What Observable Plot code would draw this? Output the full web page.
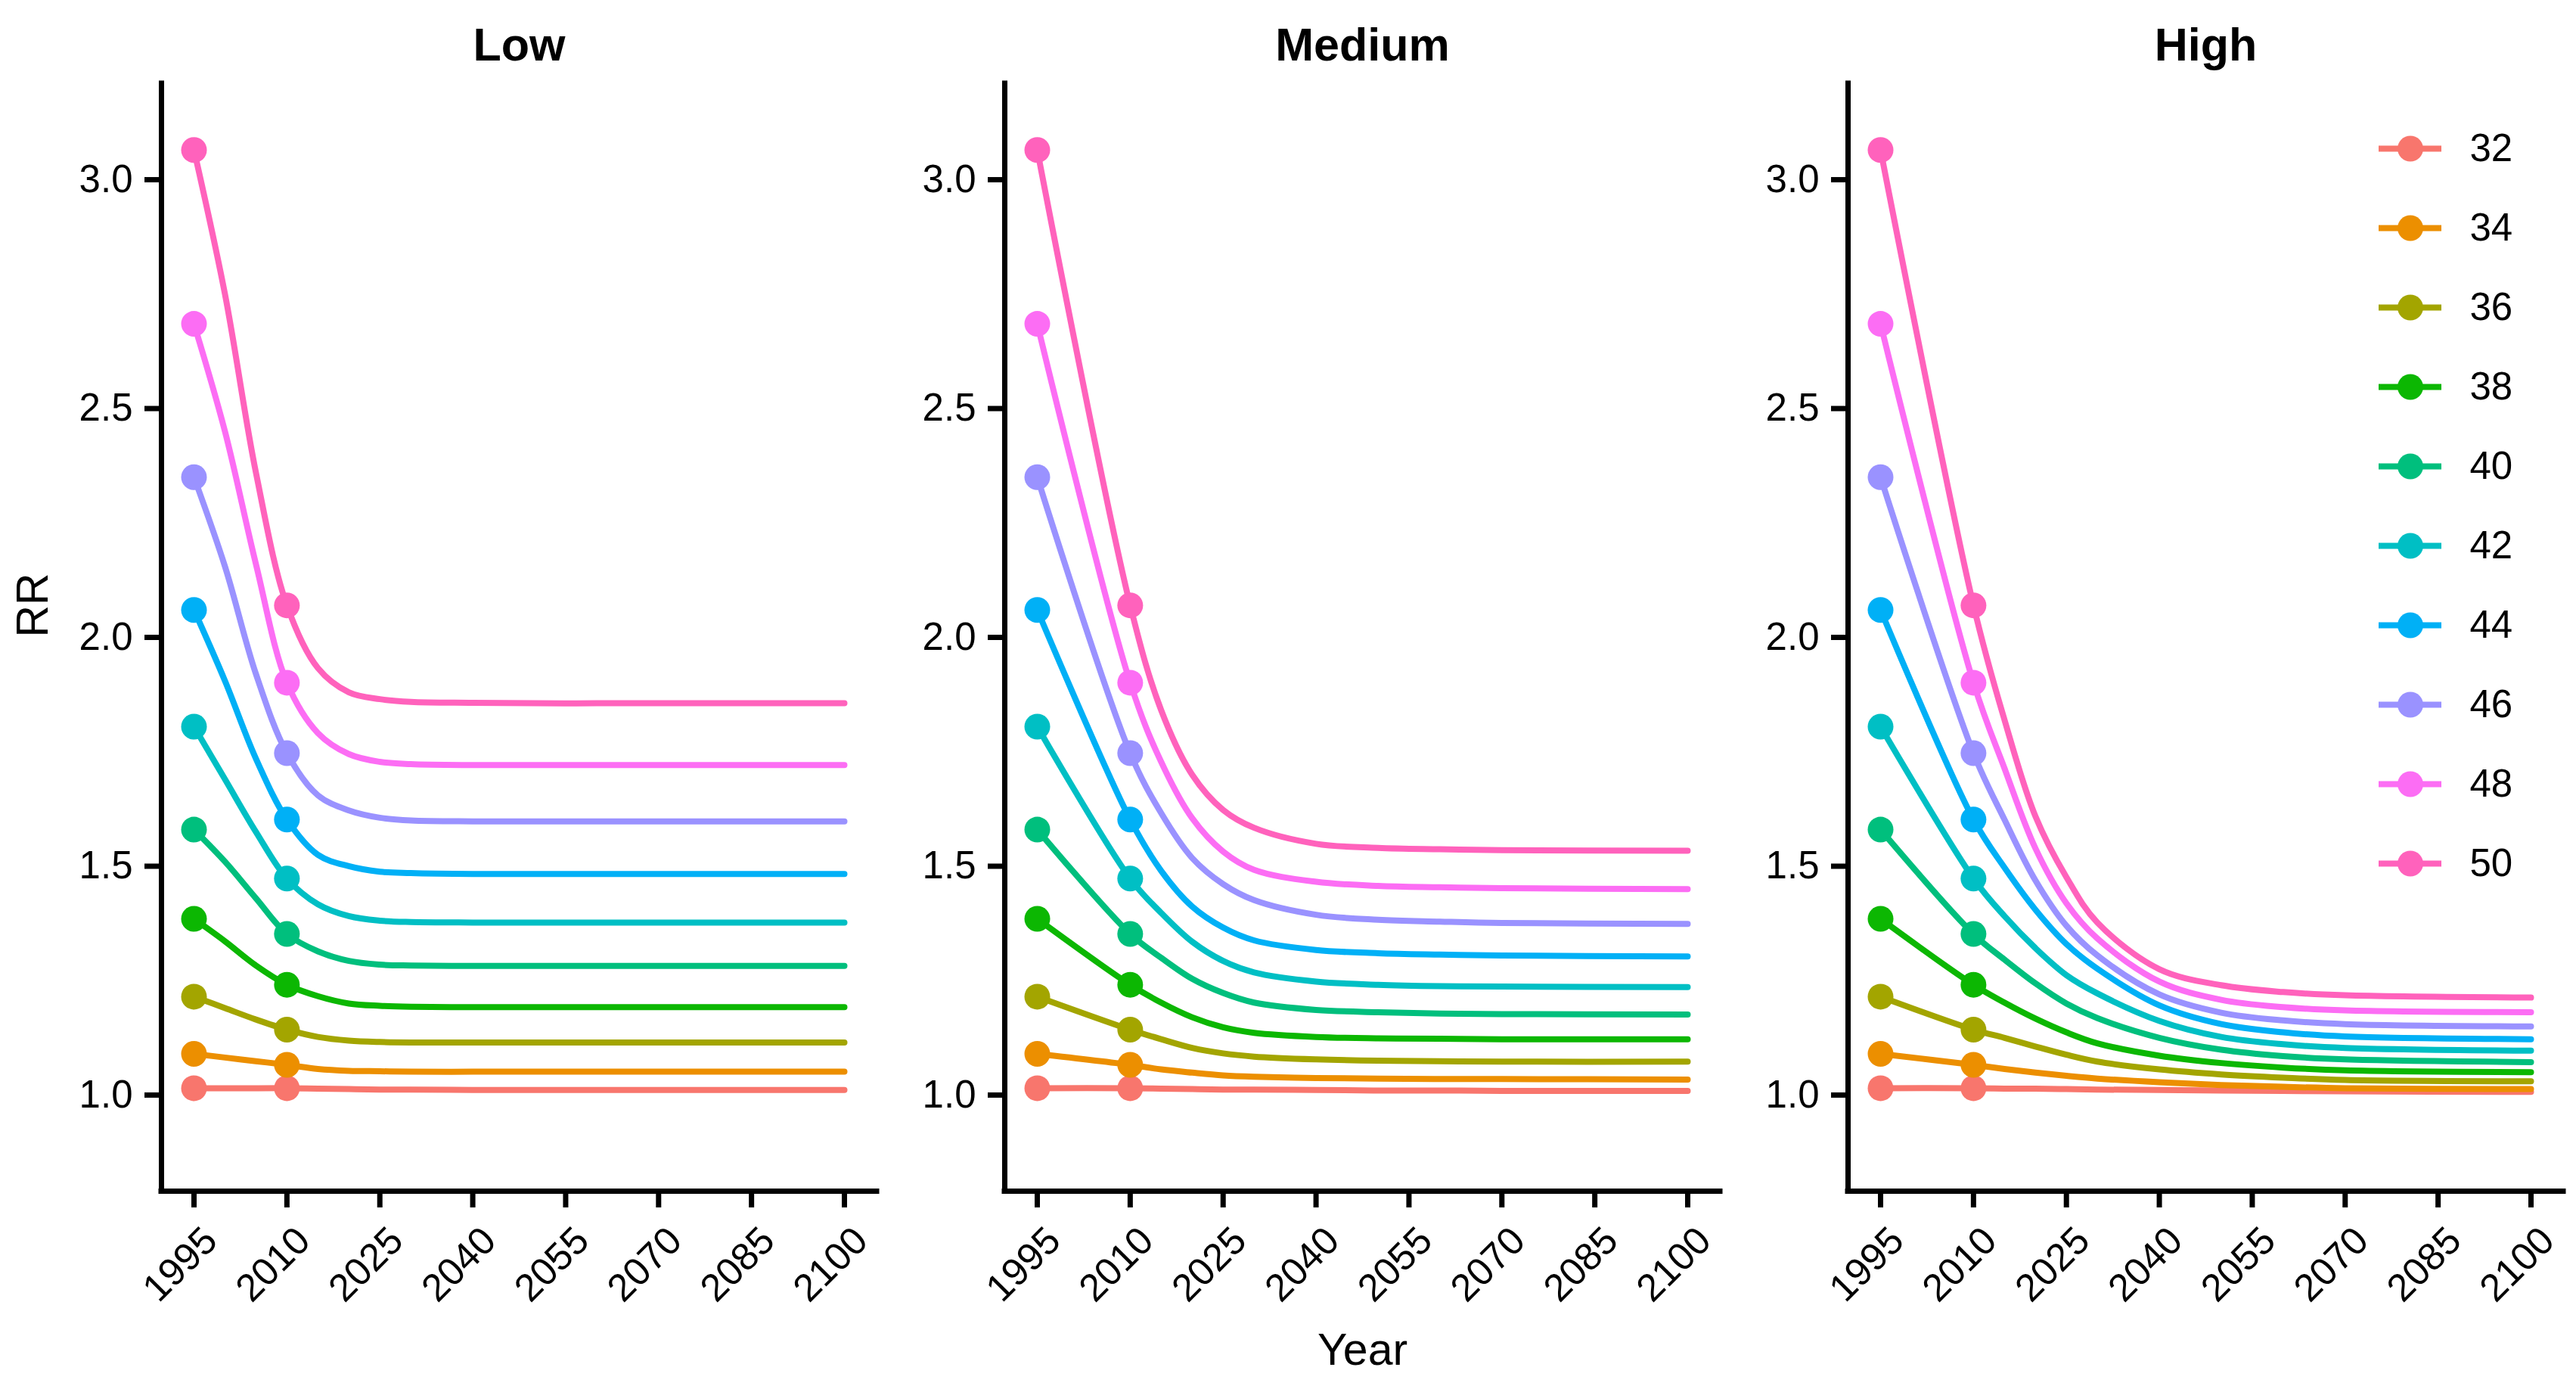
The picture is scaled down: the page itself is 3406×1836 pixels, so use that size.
<!DOCTYPE html>
<html>
<head>
<meta charset="utf-8">
<script src="https://cdn.jsdelivr.net/npm/d3@7"></script>
<script src="https://cdn.jsdelivr.net/npm/@observablehq/plot@0.6"></script>
<style>
  html, body { margin: 0; padding: 0; background: #fff; }
  #wrap { position: relative; width: 3406px; height: 1836px; }
  #wrap > div, #wrap > svg { position: absolute; }
</style>
</head>
<body>
<div id="wrap"></div>
<script>
// ---------------- data ----------------
const scenarios = ["Low", "Medium", "High"];
const ages = [32, 34, 36, 38, 40, 42, 44, 46, 48, 50];

// observed points (shown as dots), identical in all scenarios
const markerYears = [1995, 2010];
const rr1995 = [1.015, 1.090, 1.215, 1.385, 1.580, 1.805, 2.060, 2.350, 2.685, 3.065];
const rr2010 = [1.015, 1.066, 1.143, 1.241, 1.352, 1.473, 1.602, 1.747, 1.901, 2.070];

// read-off intermediate values of the Low panel between 1995 and 2010
const lowMidYears = [2000, 2005];
const lowMidRR = [
  [1.015, 1.015],
  [1.082, 1.074],
  [1.190, 1.165],
  [1.336, 1.283],
  [1.510, 1.430],
  [1.690, 1.575],
  [1.905, 1.735],
  [2.155, 1.920],
  [2.450, 2.160],
  [2.750, 2.360]
];

// projections 2015-2100 per scenario (rows follow ages, columns follow projYears)
const projYears = [2015, 2020, 2025, 2030, 2040, 2050, 2060, 2070, 2100];
const lowRR = [
  [1.014, 1.013, 1.012, 1.012, 1.011, 1.011, 1.011, 1.011, 1.011],
  [1.057, 1.053, 1.052, 1.051, 1.051, 1.051, 1.051, 1.051, 1.051],
  [1.127, 1.119, 1.116, 1.115, 1.115, 1.115, 1.115, 1.115, 1.115],
  [1.216, 1.200, 1.195, 1.193, 1.192, 1.192, 1.192, 1.192, 1.192],
  [1.314, 1.293, 1.285, 1.283, 1.282, 1.282, 1.282, 1.282, 1.282],
  [1.417, 1.391, 1.381, 1.378, 1.377, 1.377, 1.377, 1.377, 1.377],
  [1.525, 1.500, 1.488, 1.485, 1.483, 1.483, 1.483, 1.483, 1.483],
  [1.655, 1.622, 1.606, 1.600, 1.598, 1.598, 1.598, 1.598, 1.598],
  [1.791, 1.745, 1.728, 1.723, 1.721, 1.721, 1.721, 1.721, 1.721],
  [1.933, 1.880, 1.865, 1.859, 1.857, 1.856, 1.856, 1.856, 1.856]
];
const mediumRR = [
  [1.014, 1.013, 1.012, 1.012, 1.011, 1.010, 1.010, 1.009, 1.009],
  [1.056, 1.049, 1.043, 1.040, 1.037, 1.036, 1.035, 1.035, 1.034],
  [1.122, 1.103, 1.091, 1.084, 1.078, 1.075, 1.074, 1.073, 1.073],
  [1.202, 1.170, 1.148, 1.136, 1.127, 1.124, 1.123, 1.122, 1.122],
  [1.300, 1.254, 1.223, 1.202, 1.186, 1.181, 1.178, 1.177, 1.176],
  [1.398, 1.335, 1.293, 1.268, 1.248, 1.241, 1.238, 1.237, 1.236],
  [1.490, 1.412, 1.366, 1.338, 1.317, 1.310, 1.307, 1.305, 1.303],
  [1.616, 1.518, 1.461, 1.426, 1.394, 1.383, 1.379, 1.376, 1.374],
  [1.728, 1.605, 1.532, 1.492, 1.466, 1.457, 1.454, 1.452, 1.450],
  [1.841, 1.700, 1.623, 1.584, 1.549, 1.540, 1.537, 1.535, 1.534]
];
const highRR = [
  [1.014, 1.014, 1.013, 1.012, 1.011, 1.010, 1.009, 1.008, 1.007],
  [1.057, 1.049, 1.042, 1.036, 1.028, 1.022, 1.018, 1.015, 1.013],
  [1.125, 1.106, 1.088, 1.073, 1.056, 1.045, 1.038, 1.033, 1.030],
  [1.202, 1.167, 1.137, 1.113, 1.086, 1.070, 1.060, 1.054, 1.050],
  [1.296, 1.244, 1.200, 1.168, 1.125, 1.099, 1.085, 1.078, 1.072],
  [1.391, 1.321, 1.262, 1.222, 1.162, 1.127, 1.111, 1.103, 1.097],
  [1.497, 1.405, 1.330, 1.276, 1.196, 1.155, 1.137, 1.128, 1.122],
  [1.602, 1.469, 1.370, 1.305, 1.220, 1.180, 1.163, 1.155, 1.150],
  [1.714, 1.539, 1.419, 1.342, 1.248, 1.208, 1.192, 1.185, 1.181],
  [1.820, 1.609, 1.476, 1.377, 1.275, 1.240, 1.225, 1.218, 1.213]
];

const xTicks = [1995, 2010, 2025, 2040, 2055, 2070, 2085, 2100];
const yTicks = [1.0, 1.5, 2.0, 2.5, 3.0];
const xDomain = [1989.75, 2105.25];
const yDomain = [0.79, 3.21];

const palette = ["#F8766D", "#EC8F00", "#A3A500", "#0CB702", "#00BF7D",
                 "#00BFC4", "#00B0F6", "#9A92FF", "#FC6DF4", "#FF62BC"];

// ---------------- table for Plot ----------------
const projByScenario = [lowRR, mediumRR, highRR];
const rows = [];
scenarios.forEach((s, si) => {
  ages.forEach((a, ai) => {
    rows.push({scenario: s, age: a, year: markerYears[0], rr: rr1995[ai]});
    if (si === 0) lowMidYears.forEach((y, yi) => rows.push({scenario: s, age: a, year: y, rr: lowMidRR[ai][yi]}));
    rows.push({scenario: s, age: a, year: markerYears[1], rr: rr2010[ai]});
    projYears.forEach((y, yi) => rows.push({scenario: s, age: a, year: y, rr: projByScenario[si][ai][yi]}));
  });
});
const markers = rows.filter(d => markerYears.includes(d.year));

const FONT = "'Liberation Sans', Arial, Helvetica, sans-serif";

const chart = Plot.plot({
  width: 3406,
  height: 1836,
  marginLeft: 212,
  marginRight: 17,
  marginTop: 110,
  marginBottom: 262,
  style: {fontFamily: FONT, fontSize: "51px", background: "white", color: "black"},
  x: {domain: xDomain, axis: null},
  y: {domain: yDomain, axis: null},
  fx: {domain: scenarios, paddingInner: 0.152, paddingOuter: 0, axis: null, label: null},
  color: {type: "ordinal", domain: ages, range: palette},
  marks: [
    // axis lines
    Plot.ruleX(scenarios, {fx: d => d, x: () => xDomain[0], strokeWidth: 7, strokeLinecap: "square"}),
    Plot.ruleY(scenarios, {fx: d => d, y: () => yDomain[0], strokeWidth: 7, strokeLinecap: "square"}),
    // y axis in every facet
    Plot.axisY({ticks: yTicks, tickFormat: d3.format(".1f"), tickSize: 22, tickPadding: 16,
                strokeWidth: 7, fontSize: 51, facetAnchor: null, label: null}),
    // x ticks
    Plot.axisX({ticks: xTicks, tickFormat: () => "", tickSize: 22, strokeWidth: 7, label: null}),
    // x tick labels rotated
    Plot.axisX({ticks: xTicks, tickFormat: d3.format("d"), tickSize: 0, tickPadding: 57, dx: 22,
                tickRotate: -45, fontSize: 51, label: null}),
    // data
    Plot.line(rows, {fx: "scenario", x: "year", y: "rr", z: "age", stroke: "age",
                     strokeWidth: 8, curve: "catmull-rom"}),
    Plot.dot(markers, {fx: "scenario", x: "year", y: "rr", fill: "age", r: 17}),
    // panel titles
    Plot.text(scenarios, {fx: d => d, text: d => d, frameAnchor: "top", lineAnchor: "bottom",
                          dy: -31, fontSize: 61, fontWeight: "bold"}),
    // axis titles
    Plot.text([{scenario: scenarios[0], label: "RR"}], {fx: "scenario", text: "label", frameAnchor: "left",
                          rotate: -90, dx: -169, fontSize: 59}),
    Plot.text([{scenario: scenarios[1], label: "Year"}], {fx: "scenario", text: "label", frameAnchor: "bottom",
                          dy: 229, fontSize: 59})
  ]
});

// ---------------- legend (overlay inside the High panel) ----------------
const legend = Plot.plot({
  width: 260,
  height: 1040,
  marginLeft: 25,
  marginRight: 152,
  marginTop: 44,
  marginBottom: 47,
  style: {fontFamily: FONT, fontSize: "51px", background: "transparent", color: "black"},
  x: {axis: null},
  y: {type: "point", domain: ages, padding: 0, axis: null},
  color: {type: "ordinal", domain: ages, range: palette},
  marks: [
    Plot.ruleY(ages, {y: d => d, stroke: d => d, strokeWidth: 8}),
    Plot.dot(ages, {y: d => d, fill: d => d, r: 17, frameAnchor: "middle"}),
    Plot.text(ages, {y: d => d, text: d => String(d), frameAnchor: "right", textAnchor: "start",
                     dx: 37, fontSize: 51})
  ]
});

const wrap = document.getElementById("wrap");
chart.style.left = "0px";
chart.style.top = "0px";
wrap.appendChild(chart);
legend.style.left = "3120px";
legend.style.top = "150px";
legend.style.overflow = "visible";
wrap.appendChild(legend);
</script>
</body>
</html>
